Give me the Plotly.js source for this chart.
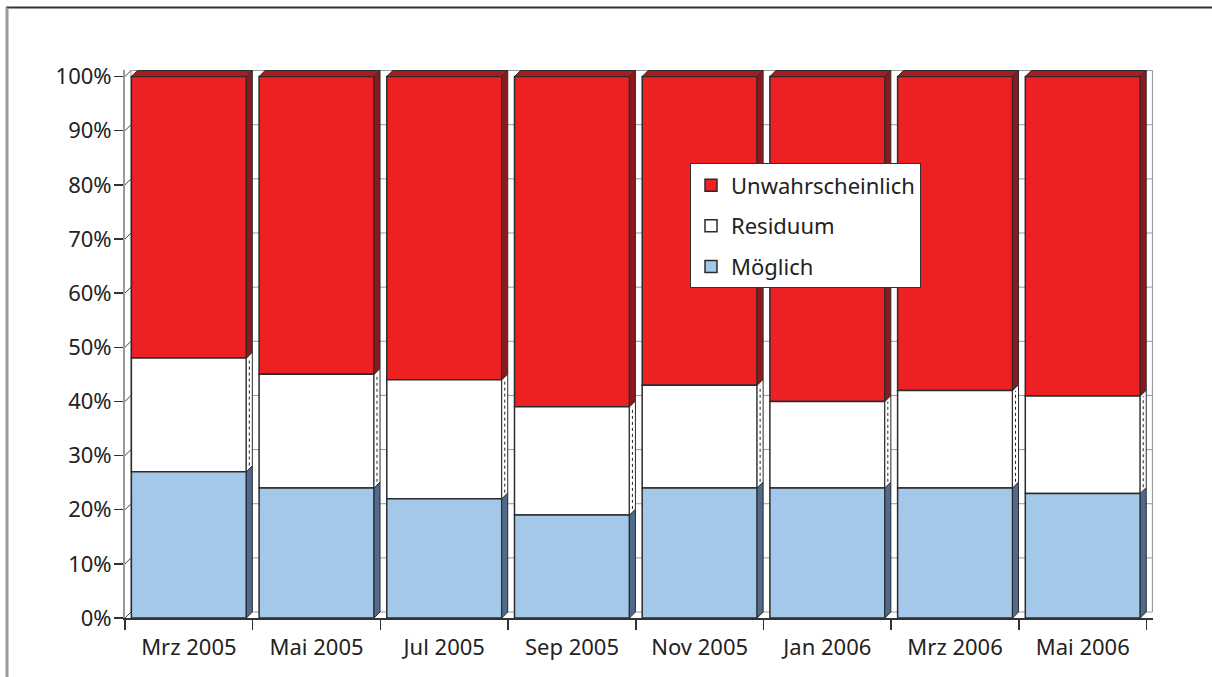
<!DOCTYPE html>
<html>
<head>
<meta charset="utf-8">
<script src="https://cdn.plot.ly/plotly-3.0.1.min.js"></script>
<style>html,body{margin:0;padding:0;background:#fff;}#chart{width:1212px;height:677px;}</style>
</head>
<body>
<div id="chart"></div>
<script>
const categories = ['Mrz 2005','Mai 2005','Jul 2005','Sep 2005','Nov 2005','Jan 2006','Mrz 2006','Mai 2006'];
const moeglich = [27,24,22,19,24,24,24,23];
const residuum = [21,21,22,20,19,16,18,18];
const unwahrscheinlich = [52,55,56,61,57,60,58,59];
const yTickVals = [0,10,20,30,40,50,60,70,80,90,100];

const W = 1212, H = 677;
const ML = 125, MR = 59, MT = 69.5, MB = 59;
const PW = W - ML - MR, PH = H - MT - MB;
const DX = 0.047, DY = 1.1;   // 3D depth in axis units
const HALF = 0.45;
const OUT = '#2b2b2b';
const FONT = 'Noto Sans, sans-serif';
const FS = 22;

const base1 = moeglich.map(() => 0);
const base2 = moeglich.slice();
const base3 = moeglich.map((v, i) => v + residuum[i]);

function frontTrace(name, y, base, color) {
  return {
    type: 'bar', name: name, x: categories, y: y, base: base,
    width: 0.9, legendgroup: name,
    marker: {color: color, line: {color: OUT, width: 1.5}},
    hoverinfo: 'skip'
  };
}
const traces = [
  frontTrace('Unwahrscheinlich', unwahrscheinlich, base3, '#ED2024'),
  frontTrace('Residuum', residuum, base2, '#FFFFFF'),
  frontTrace('Möglich', moeglich, base1, '#A3C8EA')
];

const shapes = [];
// back wall gridlines (shifted by depth)
yTickVals.forEach(v => {
  shapes.push({type:'line', xref:'x', yref:'y', layer:'below',
    x0: -0.5 + DX, x1: 7.5 + DX, y0: v + DY, y1: v + DY,
    line:{color:'#9a9a9a', width:1}});
  shapes.push({type:'line', xref:'x', yref:'y', layer:'below',
    x0: -0.5, x1: -0.5 + DX, y0: v, y1: v + DY,
    line:{color:'#444', width:1}});
});
shapes.push({type:'line', xref:'x', yref:'y', layer:'below',
  x0: 7.5 + DX, x1: 7.5 + DX, y0: DY, y1: 100 + DY, line:{color:'#9a9a9a', width:1.5}});
shapes.push({type:'line', xref:'x', yref:'y', layer:'below',
  x0: -0.5 + DX, x1: -0.5 + DX, y0: DY, y1: 100 + DY, line:{color:'#9a9a9a', width:1}});

function sideFace(i, b, t, fill) {
  const x0 = i + HALF, x1 = i + HALF + DX;
  return {type:'path', xref:'x', yref:'y', layer:'above',
    path: `M ${x0} ${b} L ${x1} ${b + DY} L ${x1} ${t + DY} L ${x0} ${t} Z`,
    fillcolor: fill, line:{color: OUT, width: 1}};
}
categories.forEach((c, i) => {
  const b1 = base1[i], t1 = b1 + moeglich[i];
  const b2 = base2[i], t2 = b2 + residuum[i];
  const b3 = base3[i], t3 = b3 + unwahrscheinlich[i];
  shapes.push(sideFace(i, b1, t1, '#4F6A8A'));
  shapes.push(sideFace(i, b2, t2, '#FFFFFF'));
  shapes.push({type:'line', xref:'x', yref:'y', layer:'above',
    x0: i + HALF + DX/2, x1: i + HALF + DX/2, y0: b2 + DY/2 + 0.6, y1: t2 + DY/2 - 0.6,
    line:{color:'#222', width:1, dash:'dot'}});
  shapes.push(sideFace(i, b3, t3, '#8C1A1D'));
  // top face
  shapes.push({type:'path', xref:'x', yref:'y', layer:'above',
    path: `M ${i - HALF} ${t3} L ${i - HALF + DX} ${t3 + DY} L ${i + HALF + DX} ${t3 + DY} L ${i + HALF} ${t3} Z`,
    fillcolor: '#A51D21', line:{color: OUT, width: 1}});
});
// outer frame
shapes.push({type:'line', xref:'paper', yref:'paper', layer:'above',
  x0: (6 - ML)/PW, x1: (W - ML)/PW, y0: (H - MB - 7)/PH, y1: (H - MB - 7)/PH,
  line:{color:'#333', width:2}});
shapes.push({type:'line', xref:'paper', yref:'paper', layer:'above',
  x0: (7 - ML)/PW, x1: (7 - ML)/PW, y0: (H - MB - 7)/PH, y1: (H - MB - H)/PH,
  line:{color:'#999', width:3}});

const layout = {
  width: W, height: H,
  margin: {l: ML, r: MR, t: MT, b: MB, pad: 0},
  paper_bgcolor: '#fff', plot_bgcolor: '#fff',
  barmode: 'overlay',
  showlegend: true,
  font: {family: FONT, color: '#222', size: FS},
  xaxis: {
    type: 'category', range: [-0.5, 7.5 + DX + 0.003],
    showgrid: false, zeroline: false,
    showline: true, linecolor: '#333', linewidth: 1.5,
    ticks: 'outside', tickson: 'boundaries', ticklen: 10, tickcolor: '#333', tickwidth: 1.5,
    ticklabelstandoff: 9,
    tickfont: {family: FONT, size: FS, color: '#222'},
    fixedrange: true
  },
  yaxis: {
    range: [0, 100 + DY + 0.1],
    tickvals: yTickVals, ticktext: yTickVals.map(v => v + '%'),
    showgrid: false, zeroline: false,
    showline: true, linecolor: '#999', linewidth: 2,
    ticks: 'outside', ticklen: 9, tickcolor: '#333', tickwidth: 1.5,
    ticklabelstandoff: -2,
    tickfont: {family: FONT, size: FS, color: '#222'},
    fixedrange: true
  },
  legend: {
    x: (690 - ML)/PW, y: (H - MB - 163)/PH, xanchor: 'left', yanchor: 'top',
    bgcolor: '#fff', bordercolor: '#333', borderwidth: 1,
    traceorder: 'grouped', tracegroupgap: 9,
    font: {family: FONT, size: FS, color: '#222'}
  },
  shapes: shapes
};

Plotly.newPlot('chart', traces, layout, {displayModeBar: false, staticPlot: true});
</script>
</body>
</html>
